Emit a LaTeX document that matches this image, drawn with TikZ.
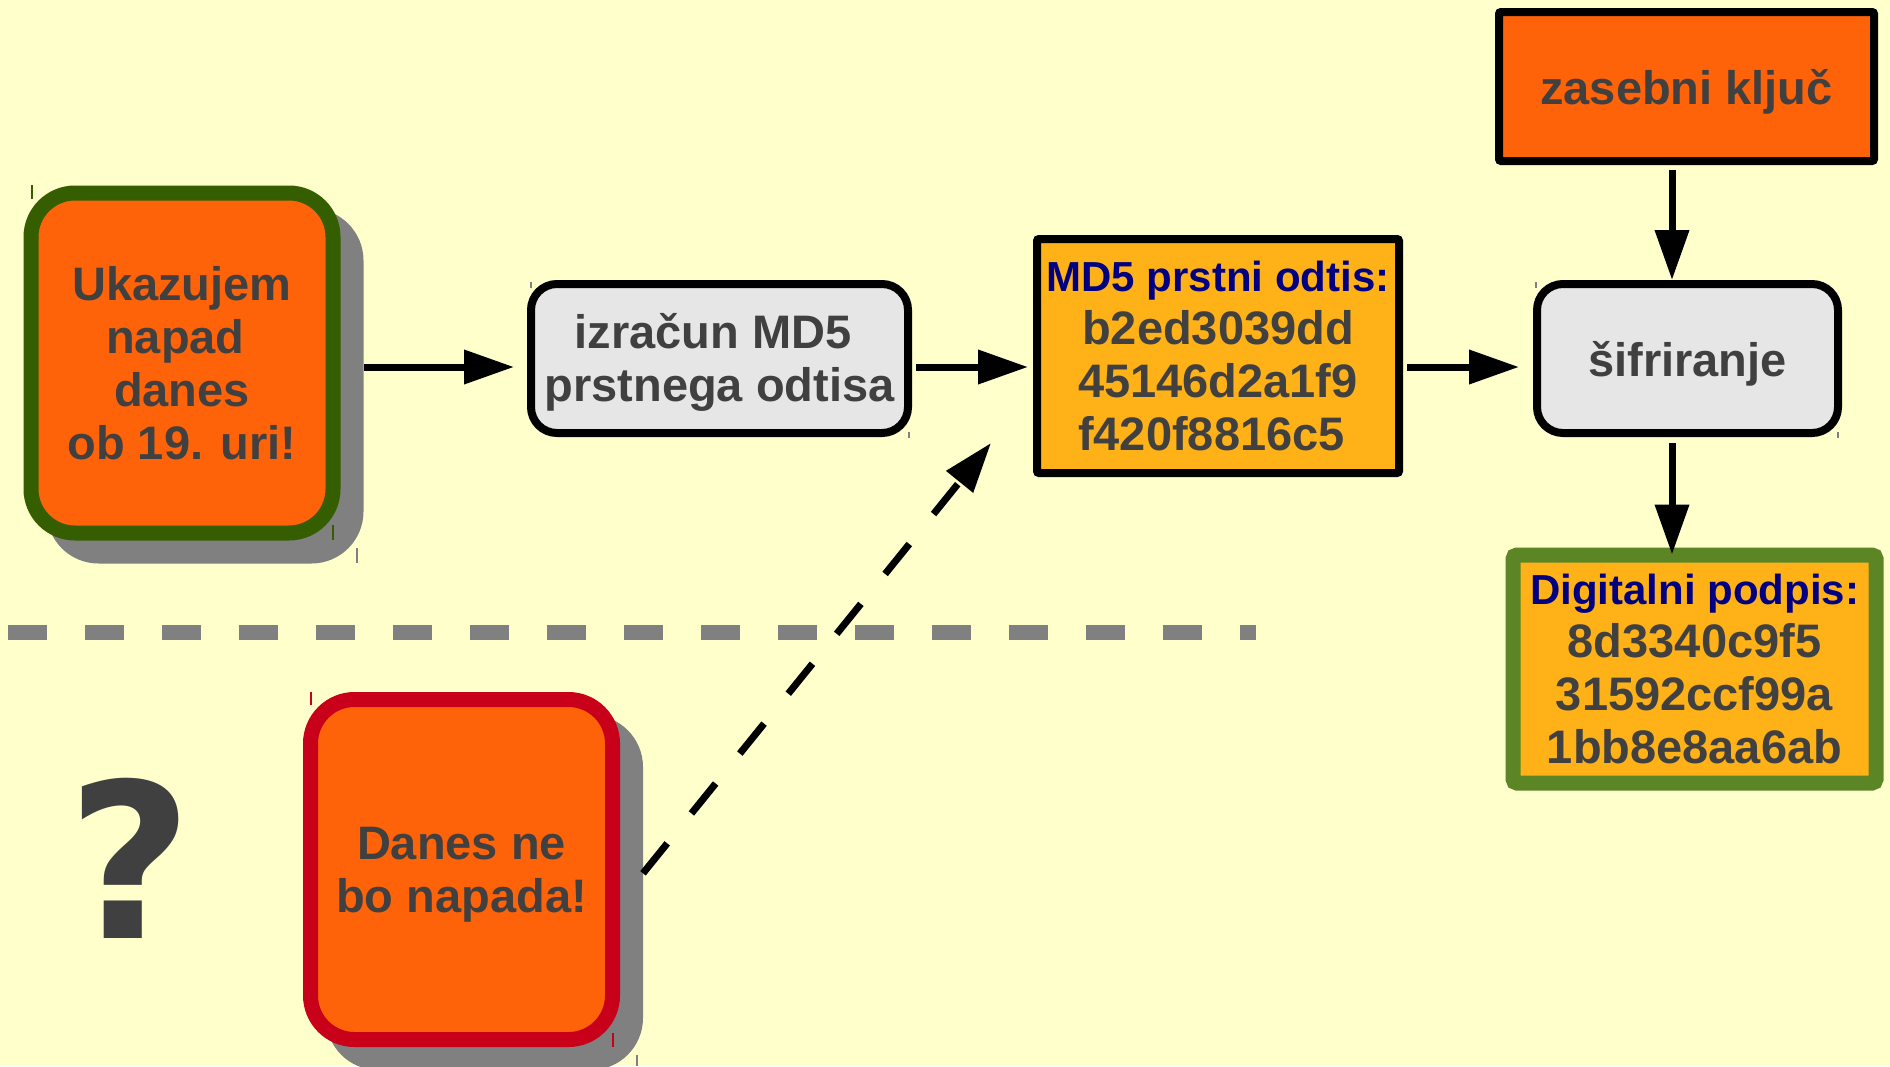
\documentclass[tikz,border=0pt]{standalone}
\usepackage{fontspec}
\setmainfont{Liberation Sans}
\newfontfamily\qfont{DejaVu Sans}
\usetikzlibrary{arrows.meta,backgrounds}
\definecolor{bgc}{HTML}{FFFFCC}
\definecolor{orangec}{HTML}{FF6309}
\definecolor{grayc}{HTML}{E6E6E6}
\definecolor{goldc}{HTML}{FFB118}
\definecolor{dgreen}{HTML}{355E00}
\definecolor{redc}{HTML}{C9001A}
\definecolor{oliveg}{HTML}{5C8526}
\definecolor{shadowc}{HTML}{808080}
\definecolor{txtc}{HTML}{404040}
\definecolor{navyc}{HTML}{000080}
\newcommand{\tsp}{\kern0.278em}
\newcommand{\topstrut}{\rule{0pt}{21pt}}
\begin{document}
\begin{tikzpicture}[x=0.5pt,y=-0.5pt,
  basetext/.style={font=\bfseries\fontsize{23.5}{26.5}\selectfont, text=txtc, align=center, inner sep=0pt},
  roundbox/.style={basetext, rounded corners=22pt, line width=7.5pt, fill=orangec,
    minimum width=151pt, minimum height=170pt, outer sep=3.75pt},
  graybox/.style={basetext, rounded corners=13pt, line width=4pt, draw=black, fill=grayc,
    minimum height=74.5pt, outer sep=2pt},
  sqbox/.style={basetext, rounded corners=1pt, line width=4pt, draw=black, outer sep=2pt},
  digbox/.style={basetext, rounded corners=2pt, line width=7.5pt, draw=oliveg, fill=goldc,
    minimum width=181.5pt, minimum height=114pt, outer sep=3.75pt},
  shadowfill/.style={fill=shadowc, rounded corners=26pt},
  arr/.style={line width=3.5pt, -{Triangle[length=25pt,width=16.5pt]}},
  dasharr/.style={arr, dash pattern=on 19.25pt off 19.25pt},
  sepline/.style={line width=7.5pt, draw=shadowc, dash pattern=on 19.25pt off 19.25pt},
  tick/.style={line width=0.6pt}]
\useasboundingbox (0,0) rectangle (1890,1066);

% boxes
\node[roundbox, draw=dgreen] (ukaz) at (182,363) {Ukazujem\\napad\tsp\\danes\\ob 19. uri!};
\node[roundbox, draw=redc] (danes) at (461.5,869.5) {\topstrut Danes ne\\bo napada!};
\node[graybox, minimum width=188.5pt] (izr) at (719.5,358.5) {\topstrut izračun MD5\tsp\\prstnega odtisa};
\node[sqbox, fill=goldc, minimum width=181pt, minimum height=117pt] (md5) at (1218,356)
  {{\fontsize{21}{26.5}\selectfont\color{navyc}MD5 prstni odtis:}\\b2ed3039dd\\45146d2a1f9\\f420f8816c5\tsp};
\node[sqbox, fill=orangec, minimum width=187.5pt, minimum height=74.5pt, text depth=0pt] (zas) at (1686.5,86.5) {zasebni ključ};
\node[graybox, minimum width=150.5pt, text depth=0pt] (sif) at (1687.5,358.5) {šifriranje};
\node[digbox] (dig) at (1694.5,669)
  {{\fontsize{21}{26.5}\selectfont\color{navyc}Digitalni podpis:}\\8d3340c9f5\\31592ccf99a\\1bb8e8aa6ab};
\node[font=\qfont\bfseries\fontsize{108}{108}\selectfont, text=txtc, anchor=base, inner sep=0pt] (q) at (130,938) {?};

% background and shadows
\begin{scope}[on background layer]
  \fill[bgc] (0,0) rectangle (1890,1066);
  \fill[shadowfill] ([shift={(11.5pt,-11.5pt)}]ukaz.north west) rectangle ([shift={(11.5pt,-11.5pt)}]ukaz.south east);
  \fill[shadowfill] ([shift={(11.5pt,-11.5pt)}]danes.north west) rectangle ([shift={(11.5pt,-11.5pt)}]danes.south east);
  \draw[sepline] (8,632) -- (1256,632);
\end{scope}

% connectors
\draw[arr] ([shift={(11.5pt,-2pt)}]ukaz.east) -- ([shift={(-6.5pt,-4.25pt)}]izr.west);
\draw[arr] ([shift={(2pt,-4.25pt)}]izr.east) -- ([shift={(-2.5pt,-5.5pt)}]md5.west);
\draw[arr] ([shift={(2pt,-5.5pt)}]md5.east) -- ([shift={(-7pt,-4.25pt)}]sif.west);
\draw[arr] ([shift={(-7.25pt,-2.5pt)}]zas.south) -- ([shift={(-7.75pt,0pt)}]sif.north);
\draw[arr] ([shift={(-7.75pt,-3pt)}]sif.south) -- ([shift={(-11.25pt,-3.5pt)}]dig.north);
\coordinate (dtip) at ([shift={(-21pt,17pt)}]md5.south west);
\draw[dasharr] ([shift={(11.5pt,-1.9pt)}]danes.east) -- (dtip);

% small handle ticks
\draw[tick, dgreen] (32,185) -- (32,199);
\draw[tick, dgreen] (333,525) -- (333,540);
\draw[tick, shadowc] (357,548) -- (357,563);
\draw[tick, redc] (311,692) -- (311,705);
\draw[tick, redc] (613,1033) -- (613,1047);
\draw[tick, shadowc] (637,1055) -- (637,1066);
\draw[tick, shadowc] (531,282) -- (531,288);
\draw[tick, shadowc] (909,432) -- (909,438);
\draw[tick, shadowc] (1536,282) -- (1536,288);
\draw[tick, shadowc] (1838,432) -- (1838,438);
\end{tikzpicture}
\end{document}
